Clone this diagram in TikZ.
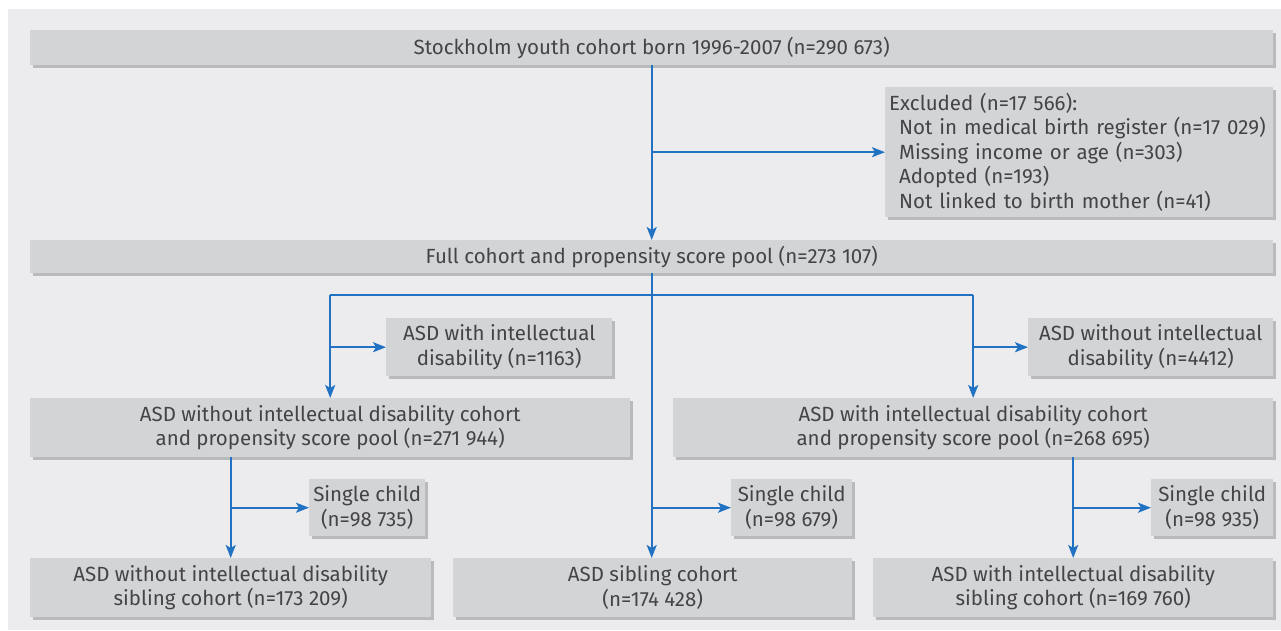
\documentclass[tikz,border=0pt]{standalone}
\usepackage{fontspec}
\setmainfont{Fira Sans}
\usetikzlibrary{arrows.meta,shadows}
\definecolor{panelgray}{HTML}{ECECEE}
\definecolor{boxgray}{HTML}{D3D4D6}
\definecolor{shadowgray}{HTML}{B9BABC}
\definecolor{flowblue}{HTML}{2272C3}
\definecolor{textgray}{HTML}{444446}
\tikzset{
  box/.style={fill=boxgray, text=textgray, anchor=north west, inner sep=0pt, align=center,
    font=\fontsize{20.5}{24.5}\selectfont,
    drop shadow={shadow xshift=3pt, shadow yshift=-3pt, fill=shadowgray, opacity=1}},
  size/.style 2 args={minimum width=#1pt, minimum height=#2pt},
  flow/.style={flowblue, line width=2pt},
  tip/.style={flow, -{Stealth[length=13pt, width=10pt, inset=3pt]}}
}

\begin{document}
\begin{tikzpicture}[x=1pt, y=-1pt]
\useasboundingbox (0,0) rectangle (1281,630);
\fill[panelgray] (8,9) rectangle (1281,630);

\node[box, size={1243}{35}] (cohort) at (30,30) {Stockholm youth cohort born 1996-2007 (n=290~673)};
\node[box, size={388}{130}, text width=380pt, inner xsep=4pt, align=left] (excl) at (885,87)
  {Excluded (n=17~566):\\
   \hspace*{10pt}Not in medical birth register (n=17~029)\\
   \hspace*{10pt}Missing income or age (n=303)\\
   \hspace*{10pt}Adopted (n=193)\\
   \hspace*{10pt}Not linked to birth mother (n=41)};
\node[box, size={1243}{33}] (full) at (30,240) {Full cohort and propensity score pool (n=273~107)};

\node[box, size={226}{58}] (withid) at (386,318) {ASD with intellectual\\disability (n=1163)};
\node[box, size={245}{58}] (withoutid) at (1028,318) {ASD without intellectual\\disability (n=4412)};
\node[box, size={600}{59}] (cohortA) at (30,398) {ASD without intellectual disability cohort\\and propensity score pool (n=271~944)};
\node[box, size={600}{59}] (cohortB) at (673,398) {ASD with intellectual disability cohort\\and propensity score pool (n=268~695)};

\node[box, size={116}{57}] (singleA) at (309,479) {Single child\\(n=98~735)};
\node[box, size={121}{57}] (singleB) at (731,479) {Single child\\(n=98~679)};
\node[box, size={122}{57}] (singleC) at (1151,479) {Single child\\(n=98~935)};

\node[box, size={401}{59}] (sibA) at (30,558) {ASD without intellectual disability\\sibling cohort (n=173~209)};
\node[box, size={399}{59}] (sibB) at (453,558) {ASD sibling cohort\\(n=174~428)};
\node[box, size={400}{59}] (sibC) at (873,558) {ASD with intellectual disability\\sibling cohort (n=169~760)};

\coordinate (split) at (0,295);

\draw[tip] (cohort.south) -- (full.north);
\draw[tip] (cohort.south |- excl.west) -- (excl.west);
\draw[tip] (full.south) -- (full.south |- sibB.north);
\draw[flow] (cohortA.north |- split) -- (cohortB.north |- split);
\draw[tip] (cohortA.north |- split) -- (cohortA.north);
\draw[tip] (cohortB.north |- split) -- (cohortB.north);
\draw[tip] (cohortA.north |- withid.west) -- (withid.west);
\draw[tip] (cohortB.north |- withoutid.west) -- (withoutid.west);
\draw[tip] (sibA.north |- cohortA.south) -- (sibA.north);
\draw[tip] (sibC.north |- cohortB.south) -- (sibC.north);
\draw[tip] (sibA.north |- singleA.west) -- (singleA.west);
\draw[tip] (full.south |- singleB.west) -- (singleB.west);
\draw[tip] (sibC.north |- singleC.west) -- (singleC.west);
\end{tikzpicture}
\end{document}
